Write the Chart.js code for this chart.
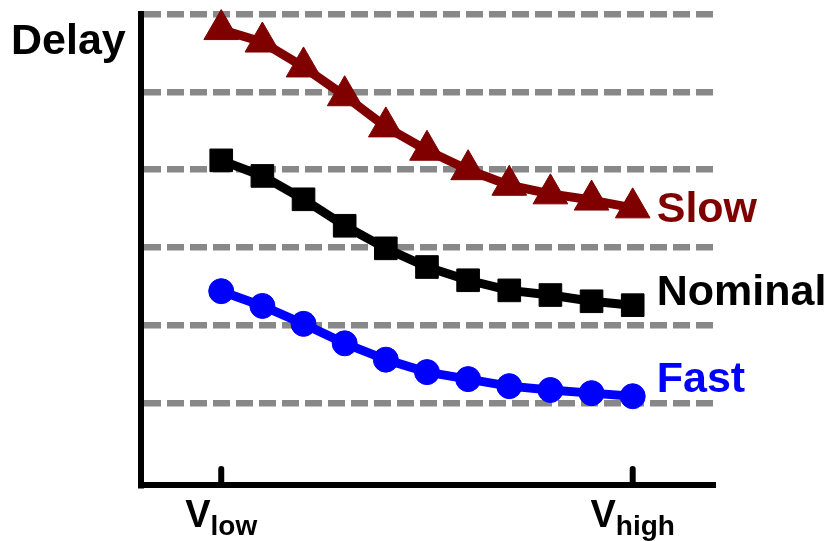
<!DOCTYPE html>
<html>
<head>
<meta charset="utf-8">
<script src="https://cdn.jsdelivr.net/npm/chart.js@4/dist/chart.umd.min.js"></script>
<style>
  html, body { margin: 0; padding: 0; background: #ffffff; }
  #wrap { width: 831px; height: 541px; }
</style>
</head>
<body>
<div id="wrap"><canvas id="c" width="831" height="541"></canvas></div>
<script>
// Supply-voltage steps from V_low (0) to V_high (10)
const steps = [0, 1, 2, 3, 4, 5, 6, 7, 8, 9, 10];

// Delay per corner (arbitrary units, one gridline = 1)
const slowDelay    = [5.80, 5.64, 5.32, 4.95, 4.55, 4.25, 4.00, 3.80, 3.69, 3.61, 3.51];
const nominalDelay = [4.12, 3.92, 3.62, 3.28, 2.99, 2.75, 2.58, 2.45, 2.39, 2.31, 2.26];
const fastDelay    = [2.44, 2.25, 2.02, 1.77, 1.56, 1.40, 1.31, 1.22, 1.17, 1.13, 1.09];

const seriesNames  = ['Slow', 'Nominal', 'Fast'];
const seriesColors = ['#800000', '#000000', '#0000ff'];

// Axis labelling
const yAxisTitle  = 'Delay';
const yGridValues = [1, 2, 3, 4, 5, 6];
const xTickValues = [0, 10];
const xTickMain   = ['V', 'V'];
const xTickSub    = ['low', 'high'];

const FONT = '"Liberation Sans", Arial, sans-serif';

const toPoints = arr => arr.map((v, i) => ({ x: steps[i], y: v }));

// Labels at the end of each curve, the axis title and the V_low / V_high ticks
const annotate = {
  id: 'annotate',
  afterDraw(chart) {
    const ctx = chart.ctx;
    const xs = chart.scales.x;
    const area = chart.chartArea;
    ctx.save();

    // inward tick marks on the x axis
    ctx.strokeStyle = '#000';
    ctx.lineWidth = 6;
    ctx.lineCap = 'round';
    xTickValues.forEach(v => {
      const px = xs.getPixelForValue(v);
      ctx.beginPath();
      ctx.moveTo(px, area.bottom);
      ctx.lineTo(px, area.bottom - 16);
      ctx.stroke();
    });

    // V_low / V_high with subscripts
    ctx.fillStyle = '#000';
    ctx.textBaseline = 'alphabetic';
    ctx.textAlign = 'left';
    xTickValues.forEach((v, i) => {
      const px = xs.getPixelForValue(v);
      ctx.font = 'bold 38px ' + FONT;
      const wMain = ctx.measureText(xTickMain[i]).width;
      ctx.font = 'bold 28px ' + FONT;
      const wSub = ctx.measureText(xTickSub[i]).width;
      const start = px - (wMain + wSub) / 2;
      ctx.font = 'bold 38px ' + FONT;
      ctx.fillText(xTickMain[i], start, 527);
      ctx.font = 'bold 28px ' + FONT;
      ctx.fillText(xTickSub[i], start + wMain, 535);
    });

    // axis title
    ctx.font = 'bold 43px ' + FONT;
    ctx.fillText(yAxisTitle, 11, 54);

    // series names beside the last point of each curve
    const dy = [14, 0, -4];
    chart.data.datasets.forEach((ds, i) => {
      const meta = chart.getDatasetMeta(i);
      const last = meta.data[meta.data.length - 1];
      ctx.fillStyle = seriesColors[i];
      ctx.font = 'bold 43px ' + FONT;
      ctx.fillText(seriesNames[i], last.x + 24, last.y + dy[i]);
    });
    ctx.restore();
  }
};

const styles = [
  { pointStyle: 'triangle', pointRadius: 20 },
  { pointStyle: 'rect',     pointRadius: 16 },
  { pointStyle: 'circle',   pointRadius: 12.5 }
];

new Chart(document.getElementById('c'), {
  type: 'line',
  data: {
    datasets: [slowDelay, nominalDelay, fastDelay].map((arr, i) => ({
      label: seriesNames[i],
      data: toPoints(arr),
      borderColor: seriesColors[i],
      backgroundColor: seriesColors[i],
      pointBackgroundColor: seriesColors[i],
      pointBorderColor: seriesColors[i],
      pointBorderWidth: 1,
      pointStyle: styles[i].pointStyle,
      pointRadius: styles[i].pointRadius,
      borderWidth: 9,
      borderJoinStyle: 'round',
      tension: 0,
      clip: false
    }))
  },
  options: {
    responsive: false,
    devicePixelRatio: 1,
    animation: false,
    layout: { autoPadding: false, padding: { left: 141, right: 116, top: 14, bottom: 56 } },
    plugins: { legend: { display: false }, tooltip: { enabled: false } },
    scales: {
      x: {
        type: 'linear',
        min: -1.95,
        max: 12,
        ticks: { display: false },
        grid: { display: false, drawTicks: false },
        border: { display: true, color: '#000', width: 6 }
      },
      y: {
        type: 'linear',
        min: -0.05,
        max: 6,
        afterBuildTicks: scale => { scale.ticks = yGridValues.map(v => ({ value: v })); },
        ticks: { display: false },
        grid: { color: '#888888', lineWidth: 6.5, drawTicks: false },
        border: { display: true, color: '#000', width: 6, dash: [17, 6] }
      }
    }
  },
  plugins: [annotate]
});
</script>
</body>
</html>
